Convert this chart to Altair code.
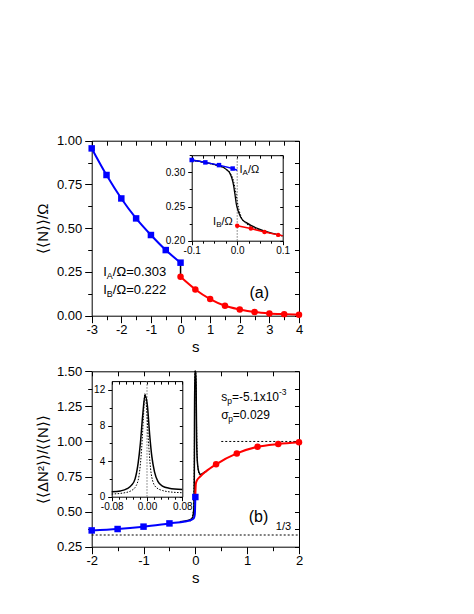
import altair as alt
import pandas as pd

W, H = 458, 598
FONT = "Liberation Sans"
BLUE = "#0000ff"
RED = "#ff0000"

# ---------------- panel (a): main ----------------
a_blue_s = [-3, -2.5, -2, -1.5, -1, -0.5, 0]
a_blue_v = [0.956, 0.804, 0.670, 0.556, 0.461, 0.375, 0.303]
a_red_s = [0, 0.5, 1, 1.5, 2, 2.5, 3, 3.5, 4]
a_red_v = [0.222, 0.150, 0.095, 0.057, 0.036, 0.021, 0.013, 0.009, 0.006]
a_jump_s = [0, 0]
a_jump_v = [0.303, 0.222]

# ---------------- panel (a): inset ----------------
ia_blue_s = [-0.1, -0.07, -0.04, -0.01, 0.0]
ia_blue_v = [0.318, 0.3145, 0.3105, 0.3055, 0.303]
ia_blue_m = [1, 1, 1, 1, 0]
ia_red_s = [0.0, 0.03, 0.06, 0.09, 0.1]
ia_red_v = [0.222, 0.2177, 0.2128, 0.2085, 0.2072]
ia_red_m = [1, 1, 1, 1, 0]
ia_exact_s = [-0.1, -0.07, -0.045, -0.03, -0.022, -0.016, -0.012, -0.008, -0.005, -0.002,
              0.001, 0.004, 0.008, 0.013, 0.02, 0.03, 0.05, 0.07, 0.1]
ia_exact_v = [0.318, 0.3145, 0.3105, 0.307, 0.303, 0.2985, 0.292, 0.281, 0.268, 0.254,
              0.246, 0.240, 0.234, 0.2295, 0.2265, 0.2225, 0.2165, 0.2120, 0.2070]
ia_approx_s = [-0.1, -0.06, -0.04, -0.025, -0.015, -0.008, -0.003, 0.0, 0.004, 0.01,
               0.02, 0.03, 0.05, 0.1]
ia_approx_v = [0.3175, 0.3125, 0.3090, 0.3050, 0.2985, 0.2870, 0.2700, 0.2580, 0.2450,
               0.2330, 0.2250, 0.2205, 0.2155, 0.2070]
ia_zero_s = [0.0, 0.0]
ia_zero_v = [0.2, 0.325]

# ---------------- panel (b): main ----------------
b_blue_s = [-2, -1.5, -1, -0.5, -0.2, -0.1, -0.03, -0.01, 0]
b_blue_v = [0.366, 0.376, 0.393, 0.416, 0.430, 0.438, 0.452, 0.480, 0.604]
b_blue_m = [1, 1, 1, 1, 0, 0, 0, 0, 1]
b_red_s = [0, 0.01, 0.03, 0.1, 0.2, 0.4, 0.8, 1.2, 1.6, 2.0]
b_red_v = [0.62, 0.70, 0.722, 0.752, 0.785, 0.837, 0.915, 0.962, 0.982, 0.994]
b_red_m = [0, 0, 0, 0, 0, 1, 1, 1, 1, 1]
b_exact_s = [-0.3, -0.15, -0.08, -0.05, -0.03, -0.02, -0.012, -0.005, 0.002, 0.008,
             0.015, 0.025, 0.04, 0.07, 0.1, 0.15, 0.2]
b_exact_v = [0.428, 0.437, 0.447, 0.46, 0.52, 0.75, 2.0, 11.4, 8.0, 3.0,
             1.4, 1.0, 0.85, 0.78, 0.765, 0.775, 0.787]
b_approx_s = [-0.1, -0.04, -0.02, -0.01, -0.005, 0.0, 0.01, 0.02, 0.04, 0.08]
b_approx_v = [0.43, 0.50, 0.90, 3.0, 11.6, 9.0, 2.5, 1.2, 0.85, 0.76]
b_one_s = [0.5, 2.0]
b_one_v = [1.0, 1.0]
b_third_s = [-2.0, 2.0]
b_third_v = [1 / 3, 1 / 3]

# ---------------- panel (b): inset ----------------
ib_exact_s = [-0.08, -0.06, -0.045, -0.035, -0.027, -0.02, -0.015, -0.01, -0.0045, 0.001,
              0.006, 0.011, 0.017, 0.025, 0.035, 0.05, 0.08]
ib_exact_v = [0.55, 0.65, 0.9, 1.3, 2.0, 3.8, 6.0, 9.0, 11.4, 10.2,
              7.0, 4.5, 2.8, 1.7, 1.2, 0.95, 0.80]
ib_approx_s = [-0.08, -0.05, -0.035, -0.025, -0.018, -0.012, -0.008, -0.005, -0.001, 0.003,
               0.008, 0.014, 0.022, 0.035, 0.05, 0.08]
ib_approx_v = [0.30, 0.45, 0.70, 1.2, 2.4, 5.5, 9.0, 11.6, 10.0, 6.5,
               3.2, 1.6, 1.0, 0.70, 0.55, 0.45]
ib_zero_s = [0.0, 0.0]
ib_zero_v = [0.0, 13.0]

# ---------------- geometry (chart pixels) ----------------
GA = dict(x0=83.7, x1=291.0, yt=132.7, yb=307.7, xd=[-3, 4], yd=[0, 1])
GAI = dict(x0=183.7, x1=274.7, yt=147.2, yb=232.7, xd=[-0.1, 0.1], yd=[0.2, 0.325])
GB = dict(x0=83.7, x1=291.0, yt=363.3, yb=538.7, xd=[-2, 2], yd=[0.25, 1.5])
GBI = dict(x0=103.7, x1=174.3, yt=373.1, yb=488.7, xd=[-0.08, 0.08], yd=[0, 13])


def ticks(lo, hi, step):
    n = int(round((hi - lo) / step))
    return [round(lo + i * step, 6) for i in range(n + 1)]


def split(vals, m):
    maj = [v for v in vals if abs(v / m - round(v / m)) < 1e-6]
    mnr = [v for v in vals if abs(v / m - round(v / m)) >= 1e-6]
    return maj, mnr


def lab_expr(fmt):
    return f"(datum.value < -1e-9 ? '-' : '') + format(abs(datum.value), '{fmt}')"


def base_kw(orient, off, vals, ts):
    return dict(orient=orient, offset=off, values=vals, tickSize=ts,
                domainColor='black', domainWidth=1, tickColor='black', tickWidth=1,
                grid=False)


def major_axis(orient, g, vals, fmt, lsize, title, tsize, ts, lpad, tpad):
    off = (g['yb'] - H) if orient == 'bottom' else -g['x0']
    kw = base_kw(orient, off, vals, ts)
    kw.update(labelExpr=lab_expr(fmt), labelFont=FONT, labelFontSize=lsize,
              labelColor='black', labelPadding=lpad, labelOverlap=False, labelFlush=False)
    if title:
        kw.update(title=title, titleFont=FONT, titleFontSize=tsize, titleFontWeight='normal',
                  titleColor='black', titlePadding=tpad)
    else:
        kw.update(title=None)
    return alt.Axis(**kw)


def minor_axis(orient, g, vals, ts):
    off = (g['yb'] - H) if orient == 'bottom' else -g['x0']
    kw = base_kw(orient, off, vals, ts)
    kw.update(labels=False, domain=False, title=None)
    return alt.Axis(**kw)


def in_axis(side, g, vals, ts):
    if side == 'top':
        orient, off = 'bottom', g['yt'] - H
    else:
        orient, off = 'left', -g['x1']
    kw = base_kw(orient, off, vals, ts)
    kw.update(labels=False, title=None)
    return alt.Axis(**kw)


def mk(s, v, m=None):
    d = pd.DataFrame({'s': s, 'v': v})
    d['i'] = range(len(d))
    if m is not None:
        d['m'] = m
    return d


def enc(ch, xs, ys):
    return ch.encode(x=alt.X('s:Q', scale=xs, axis=None), y=alt.Y('v:Q', scale=ys, axis=None))


def line(d, xs, ys, color, width, dash=None, interp='monotone'):
    kw = dict(color=color, strokeWidth=width, interpolate=interp)
    if dash:
        kw['strokeDash'] = dash
    return alt.Chart(d).mark_line(**kw).encode(
        x=alt.X('s:Q', scale=xs, axis=None), y=alt.Y('v:Q', scale=ys, axis=None),
        order='i:Q')


def pts(d, xs, ys, shape, color, size):
    if 'm' in d.columns:
        d = d[d['m'] == 1]
    if shape == 'square':
        mark = alt.Chart(d).mark_square(color=color, size=size, opacity=1)
    else:
        mark = alt.Chart(d).mark_circle(color=color, size=size, opacity=1)
    return enc(mark, xs, ys)


def rich(s, v, pieces, xs, ys):
    d = pd.DataFrame({'s': [s], 'v': [v]})
    out = []
    for t, size, dx, dy in pieces:
        out.append(enc(alt.Chart(d).mark_text(text=t, fontSize=size, dx=dx, dy=dy, align='left',
                                              baseline='middle', font=FONT, color='black'),
                       xs, ys))
    return out


def ctext(s, v, t, size, xs, ys):
    d = pd.DataFrame({'s': [s], 'v': [v]})
    return enc(alt.Chart(d).mark_text(text=t, fontSize=size, align='center', baseline='middle',
                                      font=FONT, color='black'), xs, ys)


def panel(g, xt, xm, xfmt, yt, ym, yfmt, lsize, xtitle, ytitle, marks_fn,
          clamp=False, tmaj=7, tmin=4, inward=4.5, tsize=15):
    xs = alt.Scale(domain=g['xd'], range=[g['x0'], g['x1']], nice=False, zero=False)
    ys = alt.Scale(domain=g['yd'], range=[g['yb'], g['yt']], nice=False, zero=False,
                   clamp=clamp)
    corners = pd.DataFrame({'s': g['xd'], 'v': g['yd']})
    xmaj, xmin = split(xt, xm)
    ymaj, ymin = split(yt, ym)
    out = []
    out.append(alt.Chart(corners).mark_point(opacity=0).encode(
        x=alt.X('s:Q', scale=xs,
                axis=major_axis('bottom', g, xmaj, xfmt, lsize, xtitle, tsize, tmaj, 1, 3)),
        y=alt.Y('v:Q', scale=ys,
                axis=major_axis('left', g, ymaj, yfmt, lsize, ytitle, tsize, tmaj, 3, 6))))
    out.append(alt.Chart(corners).mark_point(opacity=0).encode(
        x=alt.X('s:Q', scale=xs, axis=minor_axis('bottom', g, xmin, tmin)),
        y=alt.Y('v:Q', scale=ys, axis=minor_axis('left', g, ymin, tmin))))
    out.append(alt.Chart(corners).mark_point(opacity=0).encode(
        x=alt.X('s:Q', scale=xs, axis=in_axis('top', g, xt, inward)),
        y=alt.Y('v:Q', scale=ys, axis=in_axis('right', g, yt, inward))))
    out += marks_fn(xs, ys)
    return out


def a_marks(xs, ys):
    blue = mk(a_blue_s, a_blue_v)
    red = mk(a_red_s, a_red_v)
    return [
        line(mk(a_jump_s, a_jump_v), xs, ys, 'black', 1.5, interp='linear'),
        line(blue, xs, ys, BLUE, 2),
        line(red, xs, ys, RED, 2),
        pts(blue, xs, ys, 'square', BLUE, 42),
        pts(red, xs, ys, 'circle', RED, 42),
        *rich(-2.61, 0.251, [("I", 13, 0, 0), ("A", 9, 3.6, 4), ("/Ω=0.303", 13, 9.6, 0)], xs, ys),
        *rich(-2.61, 0.147, [("I", 13, 0, 0), ("B", 9, 3.6, 4), ("/Ω=0.222", 13, 9.6, 0)], xs, ys),
        ctext(2.66, 0.131, "(a)", 16, xs, ys),
    ]


def ai_marks(xs, ys):
    blue = mk(ia_blue_s, ia_blue_v, ia_blue_m)
    red = mk(ia_red_s, ia_red_v, ia_red_m)
    return [
        line(mk(ia_zero_s, ia_zero_v), xs, ys, '#777777', 1, dash=[1.5, 1.5], interp='linear'),
        line(mk(ia_approx_s, ia_approx_v), xs, ys, 'black', 1, dash=[1.5, 1.5]),
        line(mk(ia_exact_s, ia_exact_v), xs, ys, 'black', 1.3),
        line(blue, xs, ys, BLUE, 1.5, interp='linear'),
        line(red, xs, ys, RED, 1.5, interp='linear'),
        pts(blue, xs, ys, 'square', BLUE, 20),
        pts(red, xs, ys, 'circle', RED, 20),
        *rich(0.005, 0.3035, [("I", 11, 0, 0), ("A", 8, 3.1, 3.5), ("/Ω", 11, 8.4, 0)], xs, ys),
        *rich(-0.053, 0.228, [("I", 11, 0, 0), ("B", 8, 3.1, 3.5), ("/Ω", 11, 8.4, 0)], xs, ys),
    ]


def b_marks(xs, ys):
    blue = mk(b_blue_s, b_blue_v, b_blue_m)
    red = mk(b_red_s, b_red_v, b_red_m)
    return [
        line(mk(b_one_s, b_one_v), xs, ys, 'black', 1, dash=[2, 2], interp='linear'),
        line(mk(b_third_s, b_third_v), xs, ys, 'black', 1, dash=[2, 2], interp='linear'),
        line(mk(b_approx_s, b_approx_v), xs, ys, 'black', 1, dash=[1.5, 1.5]),
        line(mk(b_exact_s, b_exact_v), xs, ys, 'black', 1.5),
        line(blue, xs, ys, BLUE, 2),
        line(red, xs, ys, RED, 2),
        pts(blue, xs, ys, 'square', BLUE, 42),
        pts(red, xs, ys, 'circle', RED, 42),
        *rich(0.5, 1.32, [("s", 12, 0, 0), ("p", 8.5, 6.0, 4), ("=-5.1x10", 12, 10.7, 0),
                          ("-3", 8.5, 57.7, -5)], xs, ys),
        *rich(0.5, 1.19, [("σ", 12, 0, 0), ("p", 8.5, 6.9, 4), ("=0.029", 12, 11.6, 0)], xs, ys),
        ctext(1.22, 0.46, "(b)", 16, xs, ys),
        ctext(1.70, 0.393, "1/3", 11, xs, ys),
    ]


def bi_marks(xs, ys):
    return [
        line(mk(ib_zero_s, ib_zero_v), xs, ys, '#777777', 1, dash=[1.5, 1.5], interp='linear'),
        line(mk(ib_approx_s, ib_approx_v), xs, ys, 'black', 1, dash=[1.5, 1.5]),
        line(mk(ib_exact_s, ib_exact_v), xs, ys, 'black', 1.5),
    ]


layers = []
layers += panel(GA, ticks(-3, 4, 0.5), 1, 'd', ticks(0, 1, 0.125), 0.25, '.2f', 13,
                's', '⟨⟨N⟩⟩/Ω', a_marks)
layers += panel(GAI, ticks(-0.1, 0.1, 0.025), 0.1, '.1f', ticks(0.2, 0.325, 0.025), 0.05, '.2f',
                10, None, None, ai_marks, tmaj=4, tmin=2.5, inward=3)
layers += panel(GB, ticks(-2, 2, 0.5), 1, 'd', ticks(0.25, 1.5, 0.125), 0.25, '.2f', 13,
                's', '⟨⟨ΔN²⟩⟩/⟨⟨N⟩⟩', b_marks, clamp=True)
layers += panel(GBI, ticks(-0.08, 0.08, 0.016), 0.08, '.2f', ticks(0, 12, 2), 4, 'd',
                10, None, None, bi_marks, tmaj=4, tmin=2.5, inward=3)

chart = alt.layer(*layers).resolve_scale(x='independent', y='independent').resolve_axis(
    x='independent', y='independent').properties(
    width=W, height=H, autosize=alt.AutoSizeParams(type='none'), padding=0,
    background='white').configure_view(stroke=None)

chart.save("out.html", embed_options={"renderer": "svg", "actions": False})
